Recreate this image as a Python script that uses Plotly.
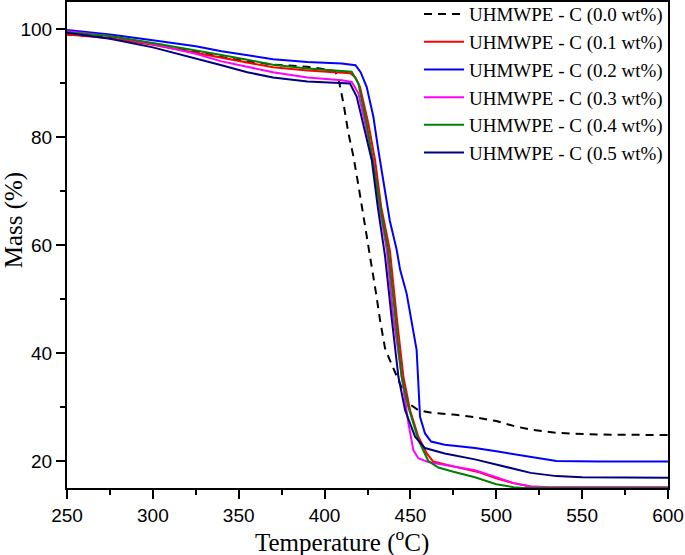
import plotly.graph_objects as go

labels = ["UHMWPE - C (0.0 wt%)", "UHMWPE - C (0.1 wt%)", "UHMWPE - C (0.2 wt%)",
          "UHMWPE - C (0.3 wt%)", "UHMWPE - C (0.4 wt%)", "UHMWPE - C (0.5 wt%)"]
colors = ["#000000", "#FF0000", "#0000FF", "#FF00FF", "#008000", "#000080"]

t0 = [250, 275, 300, 325, 340, 355, 370, 390, 401, 406, 408, 411, 413.9, 416.8, 420, 425, 430, 432.3,
      435.2, 438, 443, 448.8, 454.6, 463, 475, 487.6, 500, 510, 520, 535, 560, 600]
m0 = [99.0, 98.4, 97.2, 95.8, 94.8, 94.0, 93.4, 93.0, 92.5, 92.2, 91.0, 86.2, 80.7, 76.4, 70.5, 61.0, 51.0, 46.1,
      40.9, 38.7, 35.0, 30.7, 29.4, 28.9, 28.6, 28.1, 27.4, 26.5, 25.8, 25.2, 24.9, 24.8]

t1 = [250, 275, 300, 325, 340, 355, 370, 390, 410, 415, 418, 420.6, 425.5, 429.4, 433, 438, 442, 445.9,
      449.8, 454.6, 459.5, 463.3, 475, 490, 500, 510, 520, 530, 600]
m1 = [99.0, 98.3, 97.1, 95.6, 94.6, 93.7, 92.9, 92.3, 91.9, 91.8, 91.0, 89.3, 82.5, 75.7, 67.0, 59.1, 46.7, 35.6,
      29.4, 24.5, 21.4, 19.9, 19.0, 17.9, 16.8, 15.9, 15.3, 15.15, 15.1]

t2 = [250, 275, 300, 325, 340, 355, 370, 390, 410, 418, 421, 424.5, 428.4, 431.3, 435.2, 438, 442, 444,
      447.8, 450.7, 453.6, 454.6, 455.6, 458.5, 462, 470, 487.6, 500, 520, 535, 560, 600]
m2 = [99.8, 99.0, 97.9, 96.8, 95.9, 95.1, 94.4, 93.9, 93.6, 93.3, 92.0, 89.3, 83.8, 77.6, 70.2, 64.5, 59.1, 55.4,
      51.0, 46.1, 40.6, 34.4, 28.2, 25.1, 23.6, 23.0, 22.4, 21.8, 20.7, 20.0, 19.9, 19.9]

t3 = [250, 275, 300, 325, 340, 355, 370, 390, 410, 415.8, 419.7, 424, 428.4, 432, 436.2, 440, 444, 448.8,
      451.7, 454.6, 460.4, 475, 487.6, 500, 510, 520, 527, 600]
m3 = [99.6, 98.7, 97.2, 95.4, 94.0, 93.0, 92.0, 91.0, 90.5, 90.2, 88.1, 82.0, 75.7, 67.0, 59.1, 46.7, 37.5, 27.0,
      22.0, 20.5, 19.8, 19.0, 18.3, 17.0, 15.9, 15.3, 15.2, 15.15]

t4 = [250, 275, 300, 325, 340, 355, 370, 390, 410, 415.8, 419.7, 424.5, 429, 433, 437, 441, 444.9, 448.8,
      454.6, 460.4, 466.3, 475, 487.6, 500, 510, 516, 600]
m4 = [99.4, 98.7, 97.4, 96.1, 95.2, 94.3, 93.4, 92.7, 92.2, 92.1, 89.9, 82.5, 74.0, 66.0, 59.1, 46.7, 35.6, 30.0,
      23.9, 20.0, 18.8, 18.0, 17.0, 15.7, 15.15, 15.0, 15.0]

t5 = [250, 275, 300, 325, 340, 355, 370, 390, 410, 414.8, 418.7, 422.5, 427.5, 431, 435.2, 439, 443, 446.9,
      452.7, 458.5, 470, 487.6, 500, 520, 535, 550, 600]
m5 = [99.3, 98.2, 96.6, 94.6, 93.3, 92.0, 91.0, 90.3, 89.9, 89.9, 87.5, 82.5, 75.7, 67.0, 58.0, 46.7, 35.6, 29.4,
      24.5, 22.4, 21.4, 20.3, 19.3, 17.8, 17.2, 17.0, 16.9]

temps = [t0, t1, t2, t3, t4, t5]
masses = [m0, m1, m2, m3, m4, m5]

x_ticks = [250, 300, 350, 400, 450, 500, 550, 600]
y_ticks = [20, 40, 60, 80, 100]

fig = go.Figure()
for i in range(6):
    fig.add_trace(go.Scatter(
        x=temps[i], y=masses[i], mode="lines", name=labels[i],
        line=dict(color=colors[i], width=2, dash="8px,6px" if i == 0 else "solid"),
    ))

axis_common = dict(
    showline=True, linecolor="black", linewidth=2, mirror=True,
    ticks="outside", ticklen=9, tickwidth=1.5, tickcolor="black",
    showgrid=False, zeroline=False,
    tickfont=dict(family="Liberation Sans, Arial", size=19, color="black"),
)

fig.update_xaxes(range=[250, 600], tickvals=x_ticks, **axis_common,
                 minor=dict(tick0=250, dtick=25, ticks="outside", ticklen=5, tickcolor="black", tickwidth=1.5, showgrid=False))
fig.update_yaxes(range=[15, 105], tickvals=y_ticks, **axis_common,
                 minor=dict(tick0=10, dtick=10, ticks="outside", ticklen=5, tickcolor="black", tickwidth=1.5, showgrid=False))

serif = "Liberation Serif, Times New Roman"
fig.add_annotation(text="Temperature (<sup>o</sup>C)", xref="paper", yref="paper", x=0.458, y=-0.107,
                   xanchor="center", yanchor="middle", showarrow=False,
                   font=dict(family=serif, size=25, color="black"))
fig.add_annotation(text="Mass (%)", xref="paper", yref="paper", x=-0.088, y=0.551, textangle=-90,
                   xanchor="center", yanchor="middle", showarrow=False,
                   font=dict(family=serif, size=25, color="black"))

fig.update_layout(
    width=685, height=555,
    margin=dict(l=67, r=17, t=2, b=67, autoexpand=False),
    paper_bgcolor="white", plot_bgcolor="white",
    legend=dict(x=1, y=1.014, xanchor="right", yanchor="top", bgcolor="rgba(0,0,0,0)",
                font=dict(family=serif, size=19, color="black"),
                tracegroupgap=0, itemwidth=40),
)

fig.write_html("out.html", config={"displayModeBar": False},
               post_script="document.body.style.margin='0';document.body.style.padding='0';")
